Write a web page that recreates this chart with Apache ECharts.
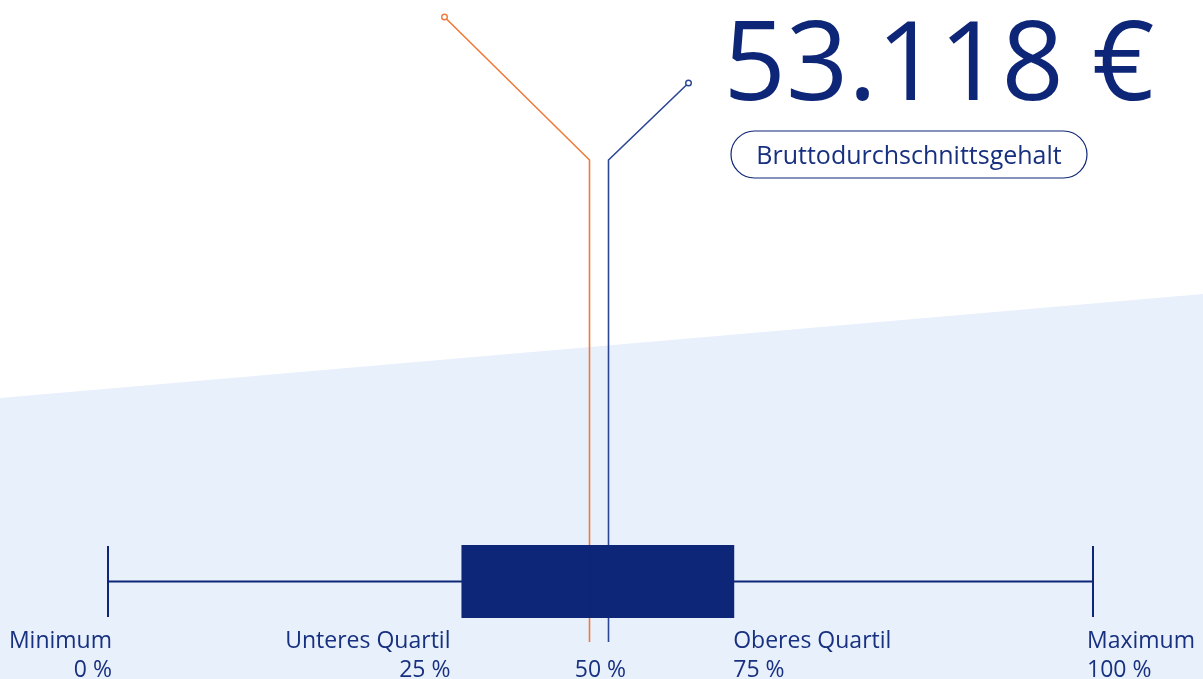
<!DOCTYPE html>
<html>
<head>
<meta charset="utf-8">
<style>
  html, body { margin: 0; padding: 0; background: #fff; }
  #chart { width: 1203px; height: 679px; }
</style>
<script src="https://cdn.jsdelivr.net/npm/echarts@6.0.0/dist/echarts.min.js"></script>
</head>
<body>
<div id="chart"></div>
<script>
// Kennzahlen Bruttogehalt (€), geschätzt aus der Grafik
var boxValues = [20250, 43550, 51900, 61350, 85000]; // Min, Q1, Median, Q3, Max
var meanValue = 53118;
var boxLabels = ['Minimum', 'Unteres Quartil', 'Oberes Quartil', 'Maximum'];
var boxPercents = ['0 %', '25 %', '75 %', '100 %'];
var boxLabelValues = [boxValues[0], boxValues[1], boxValues[3], boxValues[4]];
var medianLabel = '50 %';
var meanTitle = 'Bruttodurchschnittsgehalt';

var navy = '#0e2677';
var textBlue = '#17307f';
var orange = '#ef7a3a';
var lineBlue = '#2b4694';
var fontFamily = '"Open Sans", "Noto Sans", sans-serif';

var chart = echarts.init(document.getElementById('chart'));

// Stil der Achsenbeschriftungen (links/rechts ausgerichtet)
var labelAlign = ['right', 'right', 'left', 'left'];
var labelShift = [4, -12, 0, -6];

// Leitlinien für Median und Mittelwert
var leaderDx = [-145, 80];
var leaderTop = [17, 83];
var leaderColor = [orange, lineBlue];

var option = {
    animation: false,
    grid: { left: 108, right: 110, top: 484, bottom: 0 },
    xAxis: {
        type: 'value',
        min: boxValues[0],
        max: boxValues[4],
        show: false
    },
    yAxis: {
        type: 'category',
        data: ['Gehalt'],
        show: false
    },
    graphic: [
        {
            type: 'polygon',
            z: -10,
            shape: { points: [[0, 398], [1203, 294], [1203, 679], [0, 679]] },
            style: { fill: '#e8f0fc' },
            silent: true
        },
        {
            type: 'text',
            x: 939,
            y: 69,
            style: {
                text: meanValue.toLocaleString('de-DE') + ' €',
                fill: navy,
                font: '109px ' + fontFamily,
                align: 'center',
                textAlign: 'center',
                verticalAlign: 'middle',
                textVerticalAlign: 'middle'
            }
        },
        {
            type: 'rect',
            x: 731,
            y: 131,
            shape: { width: 356, height: 47, r: 23.5 },
            style: { fill: '#fff', stroke: navy, lineWidth: 1.2 }
        },
        {
            type: 'text',
            x: 909,
            y: 157,
            style: {
                text: meanTitle,
                fill: textBlue,
                font: '25px ' + fontFamily,
                align: 'center',
                textAlign: 'center',
                verticalAlign: 'middle',
                textVerticalAlign: 'middle'
            }
        }
    ],
    series: [
        {
            type: 'custom',
            z: 1,
            data: [[boxValues[2], 0], [meanValue, 0]],
            renderItem: function (params, api) {
                var i = params.dataIndex;
                var x = Math.round(api.coord([api.value(0), 0])[0]) + 0.5;
                var endX = x + leaderDx[i];
                var endY = leaderTop[i];
                var c = leaderColor[i];
                return {
                    type: 'group',
                    children: [
                        {
                            type: 'polyline',
                            shape: { points: [[x, 642], [x, 160], [endX, endY]] },
                            style: { stroke: c, lineWidth: 1.6, fill: null }
                        },
                        {
                            type: 'circle',
                            shape: { cx: endX, cy: endY, r: 2.8 },
                            style: { stroke: c, lineWidth: 1.4, fill: '#fff' }
                        }
                    ]
                };
            }
        },
        {
            type: 'boxplot',
            z: 3,
            boxWidth: [71, 71],
            data: [boxValues],
            itemStyle: { color: navy, borderColor: navy, borderWidth: 2 }
        },
        {
            type: 'custom',
            z: 4,
            data: boxLabelValues.map(function (v, i) { return [v, 0, i]; }),
            renderItem: function (params, api) {
                var i = params.dataIndex;
                var x = api.coord([api.value(0), 0])[0] + labelShift[i];
                return {
                    type: 'text',
                    x: x,
                    y: 627,
                    style: {
                        text: boxLabels[i] + '\n' + boxPercents[i],
                        fill: textBlue,
                        font: '23px ' + fontFamily,
                        lineHeight: 29,
                        align: labelAlign[i],
                        textAlign: labelAlign[i],
                        verticalAlign: 'top',
                        textVerticalAlign: 'top'
                    }
                };
            }
        },
        {
            type: 'custom',
            z: 4,
            data: [[boxValues[2], 0]],
            renderItem: function (params, api) {
                var x = api.coord([api.value(0), 0])[0] + 11;
                return {
                    type: 'text',
                    x: x,
                    y: 656,
                    style: {
                        text: medianLabel,
                        fill: textBlue,
                        font: '23px ' + fontFamily,
                        lineHeight: 29,
                        align: 'center',
                        textAlign: 'center',
                        verticalAlign: 'top',
                        textVerticalAlign: 'top'
                    }
                };
            }
        }
    ]
};

chart.setOption(option);
</script>
</body>
</html>
